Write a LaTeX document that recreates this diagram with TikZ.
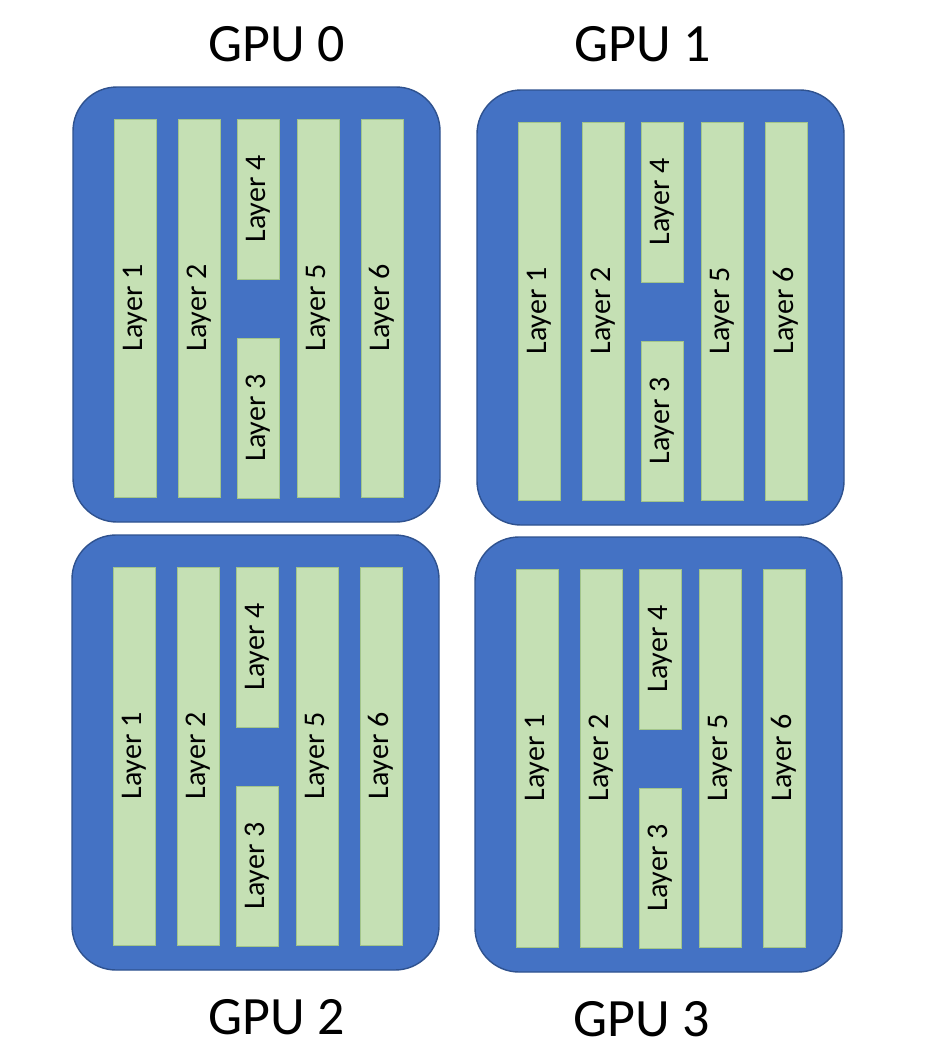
\documentclass[tikz,border=0pt]{standalone}
\usepackage{fontspec}
\setmainfont{Carlito}
\usetikzlibrary{positioning}
\definecolor{gpublue}{HTML}{4472C4}
\definecolor{gpuedge}{HTML}{2F528F}
\definecolor{layergreen}{HTML}{C5E0B4}
\definecolor{layeredge}{HTML}{A3C58A}

\begin{document}
\begin{tikzpicture}[
  x=1pt, y=-1pt,
  gpu/.style={draw=gpuedge, line width=1.4pt, fill=gpublue, rounded corners=44pt, minimum width=367pt, minimum height=435pt, inner sep=0pt},
  layer/.style={draw=layeredge, line width=0.8pt, fill=layergreen, rotate=90, minimum height=42pt, inner sep=0pt, text=black, font=\fontsize{30}{32}\selectfont},
  full/.style={layer, minimum width=378pt},
  half/.style={layer, minimum width=160pt},
  title/.style={font=\fontsize{54}{60}\selectfont},
]
\fill[white] (0,0) rectangle (930,1058);
\useasboundingbox (0,0) rectangle (930,1058);

% one box per GPU, same six layers in each
\foreach \g/\l/\t/\lx/\ly in {0/73/87/277/44, 1/477/90/643/44, 2/72/535/277/1017, 3/475/537/642/1019} {
  \begin{scope}[shift={(\l,\t)}]
    \node[gpu] (gpu\g) at (183.5,217.5) {};
    \node[full] (gpu\g-l1) at (62,221) {Layer 1};
    \node[full] (gpu\g-l2) at (126,221) {Layer 2};
    \node[half] (gpu\g-l4) at (185,112) {Layer 4};
    \node[half] (gpu\g-l3) at (185,331) {Layer 3};
    \node[full] (gpu\g-l5) at (245,221) {Layer 5};
    \node[full] (gpu\g-l6) at (309,221) {Layer 6};
  \end{scope}
  \node[title] (lbl\g) at (\lx,\ly) {GPU \g};
}
\end{tikzpicture}
\end{document}
